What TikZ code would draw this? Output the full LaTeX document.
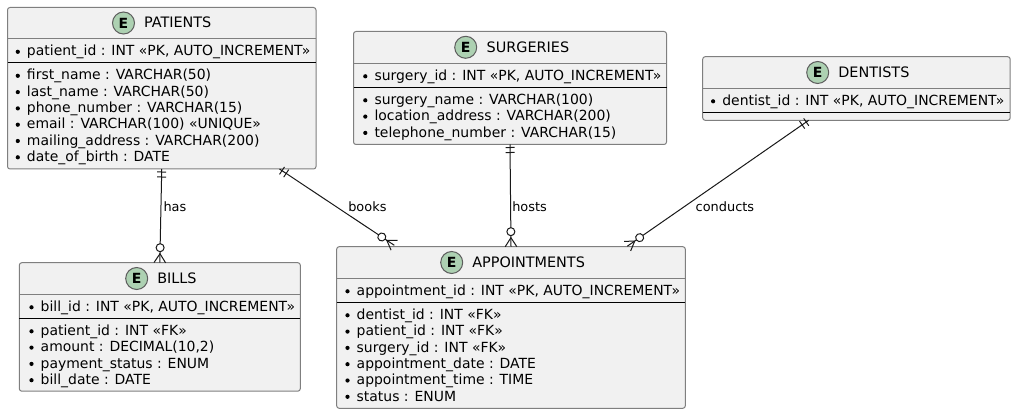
\documentclass[tikz,border=0pt]{standalone}
\usepackage{fontspec}
\setmainfont{DejaVu Sans}
\usetikzlibrary{calc,decorations.markings}
\definecolor{boxfill}{HTML}{F1F1F1}
\definecolor{boxline}{HTML}{7F7F7F}
\definecolor{ink}{HTML}{181818}
\definecolor{badge}{HTML}{ADD1B2}
\tikzset{
  entitybox/.style={draw=boxline,fill=boxfill,line width=1pt,rounded corners=2.5pt,anchor=north west,inner sep=0pt,outer sep=0pt},
  rowtext/.style={anchor=base west,inner sep=0pt,outer sep=0pt,text=black,font=\fontsize{13.95}{16}\selectfont},
  titletext/.style={anchor=base west,inner sep=0pt,outer sep=0pt,text=black,font=\fontsize{14.4}{16}\selectfont},
  linklabel/.style={anchor=base west,inner sep=0pt,outer sep=0pt,text=black,font=\fontsize{12.9}{15}\selectfont},
  badgenode/.style={circle,draw=ink!70,fill=badge,line width=1pt,minimum size=22pt,inner sep=0pt,outer sep=0pt,font=\fontsize{14}{16}\bfseries\selectfont},
  hline/.style={draw=boxline,line width=1pt},
  sepline/.style={draw=black,line width=1pt},
  relation/.style={draw=ink,line width=1pt,
    postaction={decorate,decoration={markings,
      mark=at position 0.0001 with {
        \draw[ink,line width=1pt] (3,-4.5) -- (3,4.5);
        \draw[ink,line width=1pt] (8,-4.5) -- (8,4.5);
      },
      mark=at position 0.9999 with {
        \draw[ink,line width=1pt,fill=white] (-15,0) circle (4);
        \draw[ink,line width=1pt] (0,-5.8) -- (-9,0) -- (0,5.8);
      }}}},
}
\newcommand{\rowitem}[4]{%
  \fill[black] (#2-9.2,#3-4.2) circle (2.1);
  \node[rowtext] (#1) at (#2,#3) {#4};}
\begin{document}
\begin{tikzpicture}[x=1pt,y=-1pt]
\useasboundingbox (0,0) rectangle (1016,414);

% PATIENTS
\node[entitybox,minimum width=308.5pt,minimum height=161.5pt] (patients) at (7.5,7.5) {};
\draw[hline] (7.5,39) -- (316,39);
\draw[sepline] (7.5,63) -- (316,63);
\node[badgenode] (patientsE) at (123.5,23) {E};
\node[titletext] (patientsT) at (144,28) {PATIENTS};
\rowitem{p1}{27}{56}{patient\_id : INT «PK, AUTO\_INCREMENT»}
\rowitem{p2}{27}{80}{first\_name : VARCHAR(50)}
\rowitem{p3}{27}{96.3}{last\_name : VARCHAR(50)}
\rowitem{p4}{27}{112.6}{phone\_number : VARCHAR(15)}
\rowitem{p5}{27}{128.9}{email : VARCHAR(100) «UNIQUE»}
\rowitem{p6}{27}{145.2}{mailing\_address : VARCHAR(200)}
\rowitem{p7}{27}{161.5}{date\_of\_birth : DATE}

% SURGERIES
\node[entitybox,minimum width=313pt,minimum height=113pt] (surgeries) at (353.5,31.5) {};
\draw[hline] (353.5,63.5) -- (666.5,63.5);
\draw[sepline] (353.5,87.5) -- (666.5,87.5);
\node[badgenode] (surgeriesE) at (465.7,47.3) {E};
\node[titletext] (surgeriesT) at (486.7,52.3) {SURGERIES};
\rowitem{s1}{374.5}{80.5}{surgery\_id : INT «PK, AUTO\_INCREMENT»}
\rowitem{s2}{374.5}{104.5}{surgery\_name : VARCHAR(100)}
\rowitem{s3}{374.5}{120.8}{location\_address : VARCHAR(200)}
\rowitem{s4}{374.5}{137.1}{telephone\_number : VARCHAR(15)}

% DENTISTS
\node[entitybox,minimum width=307.5pt,minimum height=63.6pt] (dentists) at (702.7,56.7) {};
\draw[hline] (702.7,88.5) -- (1010.2,88.5);
\draw[sepline] (702.7,112.5) -- (1010.2,112.5);
\node[badgenode] (dentistsE) at (817.7,72.5) {E};
\node[titletext] (dentistsT) at (838.3,77.5) {DENTISTS};
\rowitem{d1}{722.3}{105.5}{dentist\_id : INT «PK, AUTO\_INCREMENT»}

% BILLS
\node[entitybox,minimum width=281pt,minimum height=128.5pt] (bills) at (19.3,262.7) {};
\draw[hline] (19.3,294.5) -- (300.3,294.5);
\draw[sepline] (19.3,318.5) -- (300.3,318.5);
\node[badgenode] (billsE) at (136.7,278.5) {E};
\node[titletext] (billsT) at (157.3,283.5) {BILLS};
\rowitem{b1}{40.7}{311.5}{bill\_id : INT «PK, AUTO\_INCREMENT»}
\rowitem{b2}{40.7}{335.5}{patient\_id : INT «FK»}
\rowitem{b3}{40.7}{351.8}{amount : DECIMAL(10,2)}
\rowitem{b4}{40.7}{368.1}{payment\_status : ENUM}
\rowitem{b5}{40.7}{384.4}{bill\_date : DATE}

% APPOINTMENTS
\node[entitybox,minimum width=348.6pt,minimum height=161.6pt] (appointments) at (336.7,246.7) {};
\draw[hline] (336.7,278.5) -- (685.3,278.5);
\draw[sepline] (336.7,302.5) -- (685.3,302.5);
\node[badgenode] (appointmentsE) at (451.7,262.5) {E};
\node[titletext] (appointmentsT) at (472.3,267.5) {APPOINTMENTS};
\rowitem{a1}{356.7}{295.5}{appointment\_id : INT «PK, AUTO\_INCREMENT»}
\rowitem{a2}{356.7}{319.5}{dentist\_id : INT «FK»}
\rowitem{a3}{356.7}{335.8}{patient\_id : INT «FK»}
\rowitem{a4}{356.7}{352.1}{surgery\_id : INT «FK»}
\rowitem{a5}{356.7}{368.4}{appointment\_date : DATE}
\rowitem{a6}{356.7}{384.7}{appointment\_time : TIME}
\rowitem{a7}{356.7}{401}{status : ENUM}

% Connectors
\draw[relation] (patients.south) -- (bills.north);
\draw[relation] ($(patients.south east)+(-36.5,0)$) -- ($(appointments.north west)+(57.6,-1.4)$);
\draw[relation] (surgeries.south) -- (appointments.north);
\draw[relation] ($(dentists.south west)+(106,0)$) -- ($(appointments.north east)+(-58,-0.5)$);

\node[linklabel] (lhas) at (163.5,211.7) {has};
\node[linklabel] (lbooks) at (348.3,211.7) {books};
\node[linklabel] (lhosts) at (512.3,211.7) {hosts};
\node[linklabel] (lconducts) at (695.7,211.7) {conducts};
\end{tikzpicture}
\end{document}
